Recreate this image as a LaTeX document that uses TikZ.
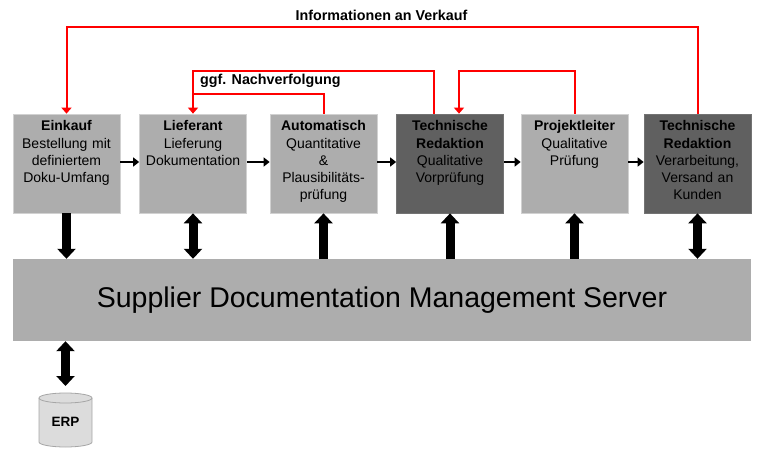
\documentclass[tikz,border=0pt]{standalone}
\usepackage{fontspec}
\setmainfont{Liberation Sans}
\usetikzlibrary{arrows.meta}
\definecolor{boxlight}{RGB}{173,173,173}
\definecolor{boxdark}{RGB}{96,96,96}
\definecolor{cylfill}{RGB}{220,220,220}
\definecolor{cylline}{RGB}{166,166,166}
\tikzset{
  stagebox/.style={rectangle, minimum width=107pt, minimum height=99pt, inner sep=0pt, line width=0.7pt},
  lightbox/.style={stagebox, fill=boxlight, draw=black!18},
  darkbox/.style={stagebox, fill=boxdark, draw=black!55},
  btext/.style={anchor=north, inner sep=0pt, align=center, text width=106pt, yshift=-7pt,
    font=\fontsize{14}{17.2}\selectfont},
  lbl/.style={inner sep=0pt, font=\fontsize{14.3}{16}\selectfont\bfseries},
  rline/.style={draw=red, line width=2pt},
  rarr/.style={-{Triangle[length=6pt,width=10pt]}},
  harr/.style={line width=1.8pt, -{Triangle[length=6pt,width=9pt]}},
  barr/.style={line width=9pt, >={Triangle[length=10pt,width=18pt]}},
  server/.style={rectangle, fill=boxlight, minimum width=738pt, minimum height=82pt, inner sep=0pt,
    font=\fontsize{28.5}{30}\selectfont},
  cyl/.style={fill=cylfill, draw=cylline, line width=0.8pt}
}
\begin{document}
\begin{tikzpicture}[x=1pt,y=-1pt]
\useasboundingbox (0,0) rectangle (757,449);
% stage boxes
\node[lightbox] (b1) at (66.5,163.5) {};
\node[lightbox] (b2) at (193,163.5) {};
\node[lightbox] (b3) at (323.5,163.5) {};
\node[darkbox]  (b4) at (450,163.5) {};
\node[lightbox] (b5) at (574.5,163.5) {};
\node[darkbox]  (b6) at (697.5,163.5) {};
% texts
\node[btext] (t1) at (b1.north) {\textbf{Einkauf}\\Bestellung mit\\definiertem\\Doku-Umfang};
\node[btext] (t2) at (b2.north) {\textbf{Lieferant}\\Lieferung\\Dokumentation};
\node[btext] (t3) at (b3.north) {\textbf{Automatisch}\\Quantitative\\\&\\Plausibilitäts-\\prüfung};
\node[btext] (t4) at (b4.north) {\textbf{Technische}\\\textbf{Redaktion}\\Qualitative\\Vorprüfung};
\node[btext] (t5) at (b5.north) {\textbf{Projektleiter}\\Qualitative\\Prüfung};
\node[btext] (t6) at (b6.north) {\textbf{Technische}\\\textbf{Redaktion}\\Verarbeitung,\\Versand an\\Kunden};
% server
\node[server] (srv) at (382,300) {Supplier Documentation Management Server};
% horizontal flow arrows
\draw[harr] ([yshift=1.5pt]b1.east) -- ([yshift=1.5pt]b2.west);
\draw[harr] ([yshift=1.5pt]b2.east) -- ([yshift=1.5pt]b3.west);
\draw[harr] ([yshift=1.5pt]b3.east) -- ([yshift=1.5pt]b4.west);
\draw[harr] ([yshift=1.5pt]b4.east) -- ([yshift=1.5pt]b5.west);
\draw[harr] ([yshift=1.5pt]b5.east) -- ([yshift=1.5pt]b6.west);
% red feedback lines
\coordinate (topy) at (0,27);
\coordinate (midy) at (0,71);
\coordinate (lowy) at (0,94);
\coordinate (b4l) at ([xshift=-16pt]b4.north);
\coordinate (b4r) at ([xshift=9pt]b4.north);
\draw[rline, rarr] (b6.north) -- (b6.north |- topy) -- (b1.north |- topy) -- (b1.north);
\draw[rline, rarr] (b4l) -- (b4l |- midy) -- (b2.north |- midy) -- (b2.north);
\draw[rline] (b3.north) -- (b3.north |- lowy) -- (b2.north |- lowy);
\draw[rline, rarr] (b5.north) -- (b5.north |- midy) -- (b4r |- midy) -- (b4r);
\node[lbl] (info) at (381.5,15) {Informationen an Verkauf};
\node[lbl, anchor=west] (ggf) at (200,81) {ggf. Nachverfolgung};
% block arrows between boxes and server
\draw[barr, ->] (b1.south) -- (b1.south |- srv.north);
\draw[barr, <->] (b2.south) -- (b2.south |- srv.north);
\draw[barr, ->] (b3.south |- srv.north) -- (b3.south);
\draw[barr, ->] (b4.south |- srv.north) -- (b4.south);
\draw[barr, ->] (b5.south |- srv.north) -- (b5.south);
\draw[barr, <->] (b6.south) -- (b6.south |- srv.north);
% ERP database
\path[cyl] (39,398) -- (39,442) arc[start angle=180, end angle=360, x radius=26.5pt, y radius=5pt]
  -- (92,398) arc[start angle=0, end angle=180, x radius=26.5pt, y radius=5pt] -- cycle;
\draw[cylline, line width=0.8pt] (39,398) arc[start angle=180, end angle=360, x radius=26.5pt, y radius=5pt];
\node[lbl, font=\fontsize{13.5}{15}\selectfont\bfseries] (erp) at (65.5,422) {ERP};
\coordinate (erptop) at (65.5,386);
\draw[barr, <->] (erptop |- srv.south) -- (erptop);
\end{tikzpicture}
\end{document}
